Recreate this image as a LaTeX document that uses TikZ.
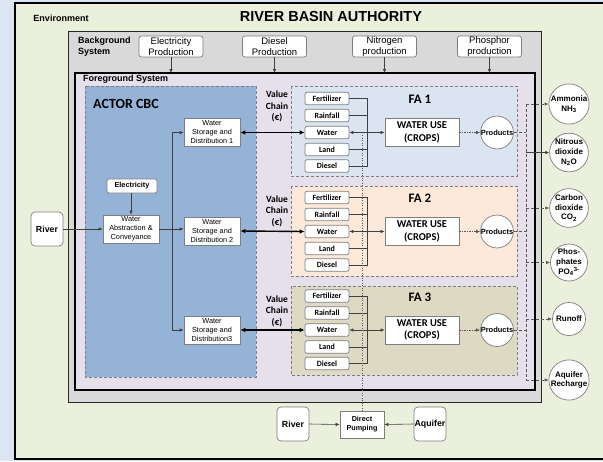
\documentclass[tikz,border=0pt]{standalone}
\usepackage{fontspec}
\setmainfont{Liberation Sans}
\newfontfamily\cbfont{Carlito}
\usetikzlibrary{arrows.meta}

\definecolor{stripblue}{HTML}{DCE6F2}
\definecolor{envgreen}{HTML}{EBF0DD}
\definecolor{bggray}{HTML}{D9D9D9}
\definecolor{fglilac}{HTML}{E6E0EC}
\definecolor{actorblue}{HTML}{95B3D7}
\definecolor{fablue}{HTML}{DBE5F1}
\definecolor{faorange}{HTML}{FDE9D9}
\definecolor{fatan}{HTML}{DDD9C3}
\definecolor{boxline}{HTML}{7F7F7F}

\tikzset{
  groupbox/.style={draw=boxline, line width=0.7pt, dash pattern=on 3pt off 2pt},
  prodbox/.style={draw=boxline, fill=white, rounded corners=2.5pt, line width=0.7pt,
    minimum width=64pt, minimum height=21pt, inner sep=0pt, align=center,
    font=\fontsize{9.5}{10.5}\selectfont},
  flowbox/.style={draw=boxline, fill=white, line width=0.7pt, minimum width=56pt,
    minimum height=28pt, inner sep=0pt, align=center, font=\fontsize{7.3}{9}\selectfont},
  inbox/.style={draw=boxline, fill=white, rounded corners=2pt, line width=0.7pt,
    minimum width=44pt, minimum height=12.5pt, inner sep=0pt,
    font=\cbfont\bfseries\fontsize{8}{8}\selectfont},
  usebox/.style={draw=boxline, fill=white, line width=0.7pt, minimum width=74pt,
    minimum height=28pt, inner sep=0pt, align=center,
    font=\cbfont\bfseries\fontsize{10.5}{12.5}\selectfont},
  prodcircle/.style={circle, draw=boxline, fill=white, line width=0.7pt,
    minimum size=32pt, inner sep=0pt, font=\bfseries\fontsize{7.5}{8}\selectfont},
  emitcircle/.style={circle, draw=boxline, fill=white, line width=0.7pt,
    minimum size=33pt, inner sep=0pt, align=center,
    font=\bfseries\fontsize{8}{9.8}\selectfont},
  endbox/.style={draw=boxline, fill=white, rounded corners=4pt, line width=0.7pt,
    minimum width=32pt, minimum height=34pt, inner sep=0pt,
    font=\bfseries\fontsize{8.8}{10}\selectfont},
  conn/.style={draw=black!75, line width=0.6pt},
  tip/.style={-{Latex[length=4pt,width=3.5pt]}},
  dblarrow/.style={{Latex[length=5pt,width=4.5pt]}-{Latex[length=5pt,width=4.5pt]},
    line width=1.4pt},
  dashline/.style={draw=black!65, line width=0.7pt, dash pattern=on 3pt off 2pt},
  dotline/.style={draw=black!65, line width=0.7pt, dash pattern=on 1.2pt off 1.3pt},
  vclabel/.style={align=center, inner sep=0pt,
    font=\cbfont\bfseries\fontsize{9.5}{11.5}\selectfont},
  falabel/.style={inner sep=0pt, font=\cbfont\bfseries\fontsize{13}{14}\selectfont},
}

\begin{document}
\begin{tikzpicture}[x=1pt,y=-1pt]
\useasboundingbox (0,0) rectangle (603,461);
\clip (0,0) rectangle (603,461);

% nested system frames
\fill[stripblue] (0,0) rectangle (603,461);
\draw[line width=1.5pt, fill=envgreen] (15,3) rectangle (640,459);
\draw[line width=1pt, draw=black!85, fill=bggray] (68,31) rectangle (541,402);
\draw[line width=1.6pt, fill=fglilac] (75,73) rectangle (535,390);
\draw[groupbox, fill=actorblue] (85,86) rectangle (256,377);
\draw[groupbox, fill=fablue] (291,86) rectangle (517,176);
\draw[groupbox, fill=faorange] (291,186) rectangle (517,276);
\draw[groupbox, fill=fatan] (291,286) rectangle (517,375);

% titles
\node[font=\bfseries\fontsize{9}{10}\selectfont] (envlbl) at (61,18) {Environment};
\node[font=\bfseries\fontsize{14.5}{16}\selectfont] (rba) at (331,17) {RIVER BASIN AUTHORITY};
\node[anchor=west, align=left, inner sep=0pt,
  font=\bfseries\fontsize{9}{11}\selectfont] (bgs) at (78,46.5) {Background\\System};
\node[anchor=west, inner sep=0pt,
  font=\bfseries\fontsize{9}{10}\selectfont] (fgs) at (83,79.5) {Foreground System};
\node[inner sep=0pt, font=\cbfont\bfseries\fontsize{14}{16}\selectfont] (actor) at (126,104) {ACTOR CBC};

% background production
\coordinate (fgtop) at (0,73);
\node[prodbox] (ep) at (171,46.5) {Electricity\\Production};
\node[prodbox] (dp) at (274.5,46.5) {Diesel\\Production};
\node[prodbox] (np) at (384.5,46.5) {Nitrogen\\production};
\node[prodbox] (pp) at (489.5,46.5) {Phosphor\\production};
\foreach \n in {ep,dp,np,pp}
  \draw[conn, tip] (\n.south) -- (\n.south |- fgtop);

% actor CBC water supply
\node[draw=boxline, fill=white, rounded corners=2pt, line width=0.7pt,
  minimum width=50pt, minimum height=14pt, inner sep=0pt,
  font=\bfseries\fontsize{7.3}{8}\selectfont] (elec) at (132,186) {Electricity};
\node[flowbox] (wa) at (131,229) {Water\\Abstraction \&\\Conveyance};
\node[flowbox] (ws1) at (212,132.5) {Water\\Storage and\\Distribution 1};
\node[flowbox] (ws2) at (212,231) {Water\\Storage and\\Distribution 2};
\node[flowbox] (ws3) at (212,330) {Water\\Storage and\\Distribution3};
\node[endbox] (river) at (47,229) {River};

\coordinate (split) at (172,0);
\draw[conn, tip] (wa.north |- elec.south) -- (wa.north);
\draw[conn, tip] (river.east) -- (river.east -| wa.west);
\draw[conn, tip] (wa.east) -- (wa.east -| ws2.west);
\draw[conn] (ws1.west -| split) -- (ws3.west -| split);
\draw[conn, tip] (ws1.west -| split) -- (ws1.west);
\draw[conn, tip] (ws3.west -| split) -- (ws3.west);

% farming areas
\coordinate (bus) at (367,0);
\coordinate (ebus) at (526,0);
\foreach \i/\wy/\vy in {1/132.5/106.5, 2/231.5/211, 3/330/311} {
  \node[vclabel] (vc\i) at (277,\vy) {Value\\Chain\\(€)};
  \node[falabel] (fa\i) at (420,\wy-33) {FA \i};
  \node[inbox] (fe\i) at (327,\wy-34) {Fertilizer};
  \node[inbox] (ra\i) at (327,\wy-17) {Rainfall};
  \node[inbox] (wt\i) at (327,\wy) {Water};
  \node[inbox] (la\i) at (327,\wy+17) {Land};
  \node[inbox] (di\i) at (327,\wy+33.5) {Diesel};
  \node[usebox] (wu\i) at (422,\wy) {WATER USE\\(CROPS)};
  \node[prodcircle] (pr\i) at (497,\wy) {Products};
  \draw[conn] (fe\i.east) -- (fe\i.east -| bus) -- (di\i.east -| bus) -- (di\i.east);
  \draw[conn] (ra\i.east) -- (ra\i.east -| bus);
  \draw[conn] (la\i.east) -- (la\i.east -| bus);
  \draw[conn, {Latex[length=4pt,width=3.5pt]}-{Latex[length=4pt,width=3.5pt]}] (wt\i.east) -- (wu\i.west);
  \draw[dotline, tip] (wu\i.east) -- (pr\i.west);
  \draw[dashline] (pr\i.east) -- (pr\i.east -| ebus);
}
\draw[dblarrow] (ws1.east) -- (wt1.west);
\draw[dblarrow] (ws2.east) -- (wt2.west);
\draw[dblarrow] (ws3.east) -- (wt3.west);

% emissions
\node[emitcircle] (am) at (569,104) {Ammonia\\NH\textsubscript{3}};
\node[emitcircle] (ni) at (569,152.5) {Nitrous\\dioxide\\N\textsubscript{2}O};
\node[emitcircle] (co) at (569,208) {Carbon\\dioxide\\CO\textsubscript{2}};
\node[emitcircle] (ph) at (569,262.5) {Phos-\\phates\\PO\textsubscript{4}\textsuperscript{3-}};
\node[emitcircle] (ru) at (569,319) {Runoff};
\node[emitcircle] (aq) at (569,380) {Aquifer\\Recharge};
\draw[dashline] (am.west -| ebus) -- (aq.west -| ebus);
\foreach \n in {am,co,ph,ru,aq}
  \draw[dashline, tip] (\n.west -| ebus) -- (\n.west);
\draw[conn, tip] (ni.west -| ebus) -- (ni.west);

% direct pumping outside the systems
\node[endbox] (river2) at (293,424) {River};
\node[flowbox, minimum width=44pt, minimum height=27pt,
  font=\bfseries\fontsize{7.2}{9}\selectfont] (dpump) at (362,424.5) {Direct\\Pumping};
\node[endbox] (aquifer) at (430,424) {Aquifer};
\draw[conn, tip] (river2.east) -- (dpump.west);
\draw[conn, tip] (aquifer.west) -- (dpump.east);
\coordinate (dtop) at (362,135);
\draw[dotline] (dtop) -- (dpump.north);
\end{tikzpicture}
\end{document}
